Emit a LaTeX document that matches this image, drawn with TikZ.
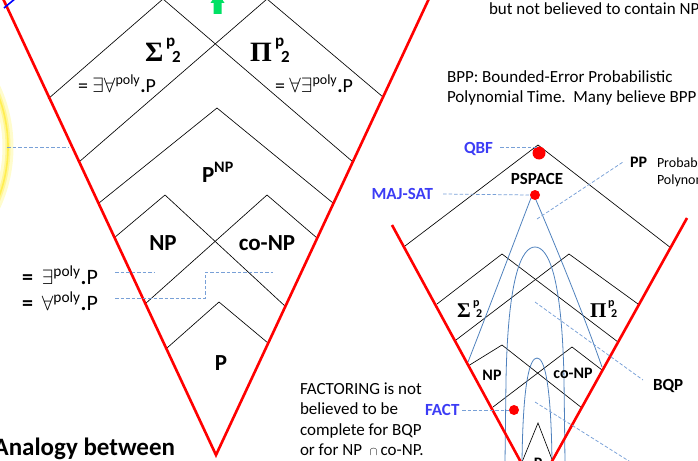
\documentclass[tikz,border=0pt]{standalone}
\usepackage{fontspec}
\setmainfont{Carlito}
\newfontfamily\grk{Liberation Serif}
\definecolor{curveblue}{RGB}{79,129,189}
\definecolor{leadblue}{RGB}{120,160,215}
\definecolor{lblblue}{RGB}{60,60,245}
\definecolor{arrgreen}{RGB}{0,225,100}
\definecolor{glowA}{RGB}{255,252,205}
\definecolor{glowB}{RGB}{255,246,150}
\definecolor{glowC}{RGB}{255,238,80}
\begin{document}
\begin{tikzpicture}[x=1pt,y=-1pt,
  redline/.style={draw=red, line width=2.6pt},
  blk/.style={draw=black, line width=0.65pt},
  bcurve/.style={draw=curveblue, line width=0.8pt},
  lead/.style={draw=leadblue, dash pattern=on 3.5pt off 2pt, line width=0.75pt},
  txt/.style={inner sep=0pt, outer sep=0pt},
  body/.style={txt, font=\fontsize{17}{20}\selectfont},
  smalltxt/.style={txt, font=\fontsize{14}{16}\selectfont},
  lab/.style={txt, font=\bfseries\fontsize{17}{20}\selectfont},
  labm/.style={txt, font=\bfseries\fontsize{16}{18}\selectfont},
  blab/.style={lab, text=lblblue},
  big/.style={txt, font=\bfseries\fontsize{23}{26}\selectfont},
  anal/.style={txt, font=\bfseries\fontsize{25}{28}\selectfont},
  grbig/.style={txt, font=\grk\bfseries\fontsize{28}{30}\selectfont},
  grmid/.style={txt, font=\grk\bfseries\fontsize{21}{24}\selectfont},
  idx/.style={txt, font=\bfseries\fontsize{17}{20}\selectfont},
  idxs/.style={txt, font=\bfseries\fontsize{12}{14}\selectfont},
  qlab/.style={txt, font=\fontsize{20}{22}\selectfont},
  qlabL/.style={txt, font=\fontsize{22}{24}\selectfont},
  rdot/.style={circle, fill=red, inner sep=0pt, minimum size=#1}
]
\useasboundingbox (0,0) rectangle (698,460);
\clip (0,0) rectangle (698,460);

% ---------- yellow glow ring ----------
\draw[glowA, line width=11pt] (-133,147) circle (141pt);
\draw[glowB, line width=5pt] (-133,147) circle (141pt);
\draw[glowC, line width=1.6pt] (-133,147) circle (141pt);

% ---------- green arrow ----------
\fill[arrgreen] (213.5,14) -- (213.5,3) -- (210.5,3) -- (217.5,-8) -- (224.5,3) -- (221.5,3) -- (221.5,14) -- cycle;

% ---------- left diagram: black lines ----------
\draw[blk] (48,99) -- (163,-1) -- (353,162);
\draw[blk] (79,162) -- (267,-1) -- (383,97);
\draw[blk] (99,203) -- (217,108) -- (333,203);
\draw[blk] (114,238) -- (165,195) -- (286,307);
\draw[blk] (317,238) -- (267,195) -- (145,304);
\draw[blk] (167,348) -- (219,302) -- (268,343);

% red V (left)
\draw[redline] (-1,-10) -- (216,455) -- (433,-10);
\draw[blue, line width=1.6pt] (4,8) -- (16,-2);

% left labels
\node[grbig, anchor=base west] (sgL) at (145,62) {Σ};
\node[idx, anchor=base west] (sgLp) at (166,47) {p};
\node[idx, anchor=base west] (sgL2) at (172,63) {2};
\node[grbig, anchor=base west] (piL) at (250,62) {Π};
\node[idx, anchor=base west] (piLp) at (275,47) {p};
\node[idx, anchor=base west] (piL2) at (281,63) {2};
\node[qlab, anchor=base west] (qL1) at (78,92) {= $\exists\forall$\textsuperscript{poly}\textbf{.}P};
\node[qlab, anchor=base west] (qL2) at (275,92) {= $\forall\exists$\textsuperscript{poly}\textbf{.}P};
\node[big, anchor=base west] (pnp) at (202,182) {P\raisebox{10pt}{\fontsize{16}{18}\selectfont NP}};
\node[big, anchor=base] (npL) at (163,250) {NP};
\node[big, anchor=base] (conpL) at (267,250) {co-NP};
\node[big, anchor=base] (pL) at (221,370) {P};

\node[qlabL, anchor=base west] (exP) at (22,284) {\textbf{=}\hspace{9pt}$\exists$\textsuperscript{poly}\textbf{.}P};
\node[qlabL, anchor=base west] (faP) at (22,310) {\textbf{=}\hspace{9pt}$\forall$\textsuperscript{poly}\textbf{.}P};

% left leaders
\coordinate (la1) at (115,272); \coordinate (la2) at (155,272);
\coordinate (lb1) at (115,298); \coordinate (lb2) at (205,298);
\coordinate (lb3) at (205,272); \coordinate (lb4) at (273,272);
\coordinate (lc1) at (7,147);   \coordinate (lc2) at (69,147);
\draw[lead] (la1) -- (la2);
\draw[lead] (lb1) -- (lb2) -- (lb3) -- (lb4);
\draw[lead] (lc1) -- (lc2);

\node[anal, anchor=base east] (an) at (175,455) {Analogy between};

% ---------- right diagram ----------
\draw[blk] (405,246) -- (538,145) -- (671,248);
\draw[blk] (437,304) -- (502,254) -- (618,342);
\draw[blk] (638,304) -- (569,254) -- (456,340);
\draw[blk] (468,366) -- (502,345) -- (582,408);
\draw[blk] (602,370) -- (572,347) -- (493,407);
\draw[blk] (522,462) -- (538,423) -- (553,462);

% blue curves
\draw[bcurve] (468,362) .. controls (500,280) and (528,205) .. (533,193) .. controls (538,205) and (575,290) .. (602,367);
\draw[bcurve] (505,462) -- (506,380) .. controls (508,275) and (522,247) .. (535,247) .. controls (548,247) and (562,275) .. (564,380) -- (565,462);
\draw[bcurve] (522,462) .. controls (523,380) and (530,358) .. (537,358) .. controls (544,358) and (551,380) .. (552,462);

% red V (right)
\draw[redline] (392,225) -- (536,490) -- (687,218);

% dots
\node[rdot=13pt] (qbfdot) at (539,153) {};
\node[rdot=10pt] (majdot) at (535,195) {};
\node[rdot=10pt] (factdot) at (514,410) {};

% right labels
\node[blab, anchor=base east] (qbf) at (493,153) {QBF};
\node[blab, anchor=base east] (maj) at (433,199) {MAJ-SAT};
\node[blab, anchor=base west] (fact) at (425,415) {FACT};
\node[lab, anchor=base] (pspace) at (537,184) {PSPACE};
\node[labm, anchor=base west] (pp) at (630,167) {PP};
\node[smalltxt, anchor=base west] (ppd1) at (657,167) {Probabilistic};
\node[smalltxt, anchor=base west] (ppd2) at (657,184) {Polynomial};
\node[lab, anchor=base west] (bqp) at (653,390) {BQP};
\node[labm, anchor=base] (npR) at (492,380) {NP};
\node[labm, anchor=base] (conpR) at (573,378) {co-NP};
\node[labm, anchor=base] (pR) at (538,468) {P};

\node[grmid, anchor=base west] (sgR) at (457,317) {Σ};
\node[idxs, anchor=base west] (sgRp) at (473,306) {p};
\node[idxs, anchor=base west] (sgR2) at (476,317) {2};
\node[grmid, anchor=base west] (piR) at (590,317) {Π};
\node[idxs, anchor=base west] (piRp) at (608,306) {p};
\node[idxs, anchor=base west] (piR2) at (611,317) {2};

% right leaders
\coordinate (qbfl) at (500,147); \coordinate (apex) at (538,147);
\coordinate (majl) at (443,194);
\coordinate (factl) at (462,410);
\coordinate (pp1) at (537,219); \coordinate (pp2) at (623,162);
\coordinate (bq1) at (535,302); \coordinate (bq2) at (643,380);
\coordinate (bp1) at (535,402); \coordinate (bp2) at (640,468);
\draw[lead] (qbfl) -- (apex);
\draw[lead] (majl) -- (majdot.west);
\draw[lead] (factl) -- (factdot.west);
\draw[lead] (pp1) -- (pp2);
\draw[lead] (bq1) -- (bq2);
\draw[lead] (bp1) -- (bp2);

% texts
\node[body, anchor=base west] (t1) at (489,15) {but not believed to contain NP};
\node[body, anchor=base west] (t2) at (447,82) {BPP: Bounded-Error Probabilistic};
\node[body, anchor=base west] (t3) at (447,102) {Polynomial Time.\ \ Many believe BPP};
\node[body, anchor=base west] (f1) at (300,394) {FACTORING is not};
\node[body, anchor=base west] (f2) at (300,414.5) {believed to be};
\node[body, anchor=base west] (f3) at (300,435) {complete for BQP};
\node[body, anchor=base west] (f4) at (300,455.5) {or for NP\ \ {\fontsize{13}{13}\selectfont$\cap$}\,co-NP.};
\end{tikzpicture}
\end{document}
